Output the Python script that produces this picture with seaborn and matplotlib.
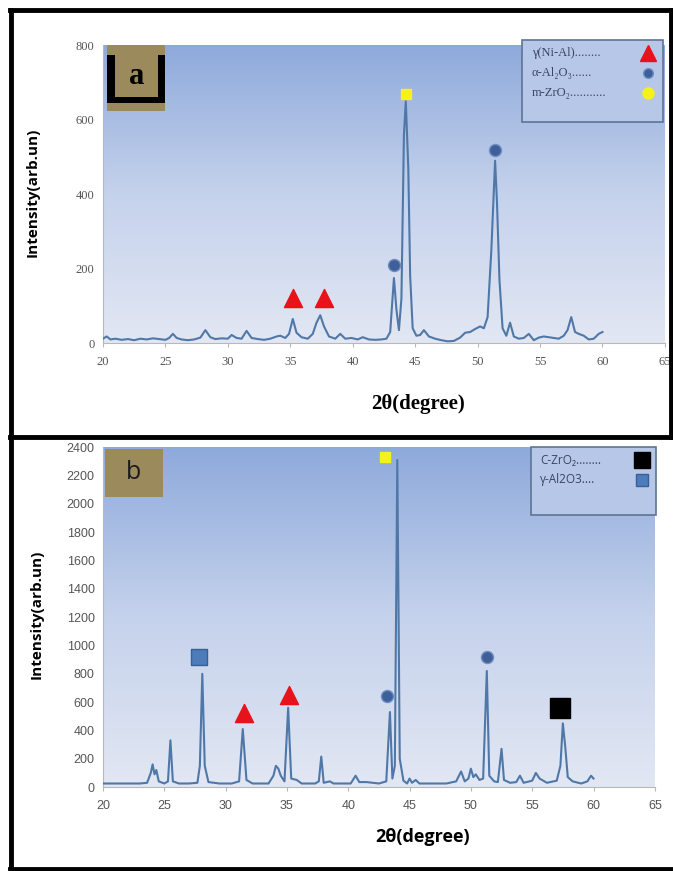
import numpy as np
import pandas as pd
import seaborn as sns
import matplotlib.pyplot as plt
from matplotlib.colors import LinearSegmentedColormap
from matplotlib.patches import Rectangle
from matplotlib.lines import Line2D

# ------------------------------------------------
# data
# ------------------------------------------------
a_theta = [20.0, 20.3, 20.6, 21.0, 21.5, 22.0, 22.5, 23.0, 23.5, 24.0, 24.5, 25.0, 25.3, 25.6,
           25.9, 26.3, 26.8, 27.3, 27.8, 28.2, 28.6, 29.0, 29.5, 30.0, 30.3, 30.7, 31.1, 31.5,
           31.9, 32.4, 32.9, 33.4, 33.9, 34.2, 34.6, 34.9, 35.2, 35.5, 35.9, 36.4, 36.8, 37.1,
           37.4, 37.7, 38.1, 38.6, 39.0, 39.4, 39.9, 40.4, 40.8, 41.3, 41.8, 42.3, 42.7, 43.0,
           43.3, 43.5, 43.7, 43.9, 44.1, 44.25, 44.45, 44.6, 44.8, 45.1, 45.4, 45.7, 46.1, 46.6,
           47.1, 47.6, 48.1, 48.6, 49.0, 49.4, 49.8, 50.2, 50.5, 50.8, 51.1, 51.4, 51.55, 51.75,
           52.0, 52.3, 52.6, 52.9, 53.3, 53.7, 54.1, 54.5, 54.9, 55.3, 55.7, 56.1, 56.5, 56.9,
           57.2, 57.5, 57.8, 58.1, 58.5, 58.9, 59.3, 59.7, 60.0]
a_int = [12, 18, 10, 12, 9, 11, 8, 12, 10, 13, 11, 9, 14, 25,
         14, 10, 8, 10, 15, 35, 16, 11, 13, 12, 22, 14, 12, 33,
         14, 11, 9, 12, 18, 20, 14, 25, 65, 28, 16, 12, 25, 55,
         75, 45, 18, 12, 25, 12, 14, 10, 16, 10, 9, 10, 12, 30,
         175, 90, 35, 120, 560, 650, 470, 180, 40, 20, 22, 35, 18, 12,
         8, 5, 6, 15, 28, 30, 38, 45, 40, 70, 250, 490, 380, 170,
         40, 20, 55, 18, 12, 14, 25, 8, 15, 18, 16, 14, 12, 20,
         35, 70, 30, 25, 20, 10, 12, 25, 30]

b_theta = [20.0, 21.0, 22.0, 23.0, 23.6, 23.9, 24.05, 24.2, 24.35, 24.55, 25.0, 25.3, 25.5,
           25.7, 26.2, 27.0, 27.7, 27.9, 28.1, 28.3, 28.6, 29.5, 30.5, 31.1, 31.4, 31.7, 32.2,
           33.5, 33.9, 34.1, 34.3, 34.5, 34.8, 35.1, 35.35, 35.8, 36.2, 37.3, 37.6, 37.8, 38.0,
           38.5, 38.8, 40.2, 40.6, 40.9, 41.5, 42.5, 43.1, 43.4, 43.6, 43.8, 44.0, 44.2, 44.5,
           44.8, 45.0, 45.2, 45.5, 45.8, 48.0, 48.8, 49.2, 49.5, 49.8, 50.0, 50.2, 50.4, 50.7,
           51.0, 51.3, 51.5, 51.9, 52.2, 52.5, 52.7, 53.2, 53.7, 54.0, 54.3, 55.0, 55.3, 55.6,
           56.2, 57.0, 57.3, 57.5, 57.7, 57.9, 58.3, 59.0, 59.5, 59.8, 60.0]
b_int = [25, 25, 25, 25, 30, 100, 160, 90, 120, 40, 25, 40, 330,
         40, 25, 25, 30, 150, 800, 150, 35, 25, 25, 40, 410, 50, 25,
         25, 80, 150, 130, 80, 40, 560, 60, 50, 25, 25, 40, 215, 30,
         40, 25, 25, 80, 35, 35, 25, 40, 530, 60, 150, 2310, 200, 45,
         25, 60, 30, 50, 25, 25, 40, 110, 40, 60, 130, 70, 90, 50,
         60, 820, 80, 40, 35, 270, 50, 30, 35, 80, 30, 45, 100, 60,
         30, 45, 150, 450, 280, 70, 40, 25, 40, 80, 60]

# peak markers: (phase, 2theta, intensity)
a_phase = ["gNiAl", "gNiAl", "aAl2O3", "aAl2O3", "mZrO2"]
a_mark_x = [35.2, 37.7, 43.3, 51.4, 44.3]
a_mark_y = [120, 120, 210, 520, 670]

b_phase = ["gAl2O3", "gNiAl", "gNiAl", "aAl2O3", "aAl2O3", "mZrO2", "cZrO2"]
b_mark_x = [27.8, 31.5, 35.2, 43.2, 51.3, 43.0, 57.3]
b_mark_y = [920, 520, 650, 640, 920, 2330, 560]

a_legend = ["γ(Ni-Al)........", "α-Al₂O₃......", "m-ZrO₂..........."]
a_legend_phase = ["gNiAl", "aAl2O3", "mZrO2"]
b_legend = ["C-ZrO₂........", "γ-Al2O3...."]
b_legend_phase = ["cZrO2", "gAl2O3"]

marker_style = {
    "gNiAl": dict(marker="^", color="#e8121b", ec="#e8121b", s=170),
    "aAl2O3": dict(marker="o", color="#3e5f98", ec="#6f8fc4", s=75),
    "mZrO2": dict(marker="s", color="#f4f21a", ec="#f4f21a", s=60),
    "gAl2O3": dict(marker="s", color="#4d7cba", ec="#3a5f95", s=140),
    "cZrO2": dict(marker="s", color="#000000", ec="#000000", s=220),
}

line_color = "#4f78a8"
serif = ["Liberation Serif", "DejaVu Serif"]
sans = ["Open Sans", "DejaVu Sans"]

plt.rcParams["font.family"] = ["Liberation Sans", "DejaVu Sans"]

fig = plt.figure(figsize=(6.73, 8.71), dpi=100)

grad_cmap = LinearSegmentedColormap.from_list("bg", ["#e2e7f3", "#c5d2ec", "#8eaadb"])


def setup_axes(ax, ymax, ystep, tick_family):
    grad = np.linspace(0, 1, 256).reshape(-1, 1)
    ax.imshow(grad, extent=[0, 1, 0, 1], transform=ax.transAxes, aspect="auto",
              cmap=grad_cmap, origin="lower", zorder=0)
    ax.set_xlim(20, 65)
    ax.set_ylim(0, ymax)
    ax.set_xticks(range(20, 66, 5))
    ax.set_yticks(range(0, ymax + 1, ystep))
    for s in ["top", "right"]:
        ax.spines[s].set_visible(False)
    for s in ["left", "bottom"]:
        ax.spines[s].set_color("#b8b8b8")
        ax.spines[s].set_linewidth(0.8)
    ax.tick_params(axis="x", colors="#b8b8b8", labelcolor="#555555", labelsize=9,
                   length=3, direction="out", pad=6)
    ax.tick_params(axis="y", colors="#b8b8b8", labelcolor="#555555", labelsize=9,
                   length=0, pad=6)
    for lab in ax.get_xticklabels() + ax.get_yticklabels():
        lab.set_family(tick_family)
    ax.set_xlabel("")
    ax.set_ylabel("")
    ax.grid(False)


def draw_markers(ax, phases, xs, ys):
    df = pd.DataFrame({"phase": phases, "x": xs, "y": ys})
    for ph, sub in df.groupby("phase"):
        st = marker_style[ph]
        sns.scatterplot(data=sub, x="x", y="y", ax=ax, marker=st["marker"], s=st["s"],
                        color=st["color"], edgecolor=st["ec"], linewidth=1, zorder=5,
                        clip_on=False)


# ------------------------------------------------
# panel a
# ------------------------------------------------
ax1 = fig.add_axes([0.153, 0.606, 0.835, 0.342])
sns.lineplot(x=a_theta, y=a_int, ax=ax1, color=line_color, lw=1.5, zorder=3)
draw_markers(ax1, a_phase, a_mark_x, a_mark_y)
setup_axes(ax1, 800, 200, serif)

# ------------------------------------------------
# panel b
# ------------------------------------------------
ax2 = fig.add_axes([0.153, 0.0964, 0.82, 0.39])
sns.lineplot(x=b_theta, y=b_int, ax=ax2, color=line_color, lw=1.5, zorder=3)
draw_markers(ax2, b_phase, b_mark_x, b_mark_y)
setup_axes(ax2, 2400, 200, ["Liberation Sans", "DejaVu Sans"])


def fx(px):
    return px / 673.0


def fy(py):
    return 1 - py / 871.0


# legend boxes (drawn in figure pixels)
def legend_box(x0, y0, x1, y1, labels, phases, family, fsize, row_h, text_x, mark_x):
    fig.add_artist(Rectangle((fx(x0), fy(y1)), fx(x1 - x0), (y1 - y0) / 871.0,
                             transform=fig.transFigure, facecolor="#b7c7e8",
                             edgecolor="#5f7396", lw=1.2, zorder=6))
    for i, (lab, ph) in enumerate(zip(labels, phases)):
        yy = y0 + 13 + i * row_h
        fig.text(fx(text_x), fy(yy), lab, family=family, fontsize=fsize, color="#3a4560",
                 va="center", ha="left", zorder=7)
        st = marker_style[ph]
        size = {"gNiAl": 12, "aAl2O3": 7, "mZrO2": 8, "gAl2O3": 9, "cZrO2": 11}[ph]
        mk = "o" if ph == "mZrO2" else st["marker"]
        fig.add_artist(Line2D([fx(mark_x)], [fy(yy)], marker=mk, markersize=size,
                              color=st["color"], markeredgecolor=st["ec"],
                              transform=fig.transFigure, zorder=7))


legend_box(522, 40, 663, 122, a_legend, a_legend_phase, serif, 9, 20, 532, 648)
legend_box(531, 447, 656, 515, b_legend, b_legend_phase, sans, 8.5, 20, 540, 642)

# panel letters
fig.add_artist(Rectangle((fx(107), fy(111)), fx(58), 66 / 871.0, transform=fig.transFigure,
                         facecolor="#9a8a5c", edgecolor="none", zorder=6))
fig.add_artist(Rectangle((fx(107), fy(103)), fx(8), 48 / 871.0, transform=fig.transFigure,
                         facecolor="black", edgecolor="none", zorder=7))
fig.add_artist(Rectangle((fx(158), fy(103)), fx(7), 48 / 871.0, transform=fig.transFigure,
                         facecolor="black", edgecolor="none", zorder=7))
fig.add_artist(Rectangle((fx(107), fy(103)), fx(58), 6 / 871.0, transform=fig.transFigure,
                         facecolor="black", edgecolor="none", zorder=7))
fig.text(fx(137), fy(76), "a", family=serif, fontsize=22,
         weight="bold", ha="center", va="center", zorder=8)

fig.add_artist(Rectangle((fx(105), fy(497)), fx(58), 48 / 871.0, transform=fig.transFigure,
                         facecolor="#9a8a5c", edgecolor="none", zorder=6))
fig.text(fx(134), fy(472), "b", family=sans, fontsize=18,
         color="#1a1a1a", ha="center", va="center", zorder=8)

# axis titles
fig.text(fx(33), fy(192), "Intensity(arb.un)", family=sans,
         fontsize=11, weight="bold", rotation=90, ha="center", va="center")
fig.text(fx(418), fy(404), "2θ(degree)", family=serif,
         fontsize=15, weight="bold", ha="center", va="center")
fig.text(fx(37), fy(614), "Intensity(arb.un)", family=sans,
         fontsize=11, weight="bold", rotation=90, ha="center", va="center")
fig.text(fx(423), fy(837), "2θ(degree)", family=sans,
         fontsize=13, weight="bold", ha="center", va="center")

# black frames
lw = 3.5
for (x0, y0, x1, y1) in [(10, 10, 673, 10), (11, 10, 11, 869), (10, 437, 673, 437),
                         (10, 869, 673, 869), (671, 10, 671, 437)]:
    fig.add_artist(Line2D([fx(x0), fx(x1)], [fy(y0), fy(y1)], color="black", lw=lw,
                          transform=fig.transFigure, zorder=10))

fig.savefig("out.png", dpi=100)
